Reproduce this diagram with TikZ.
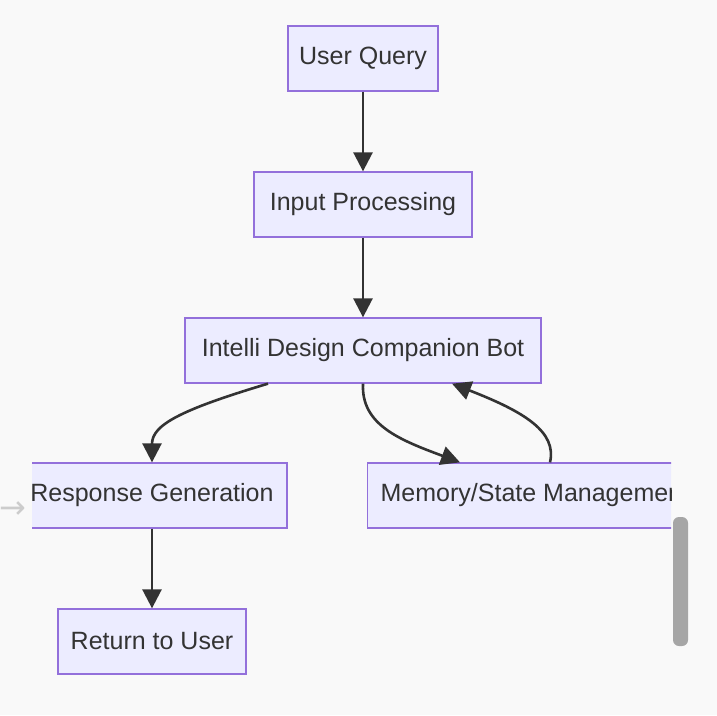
\documentclass[tikz,border=0pt]{standalone}
\usepackage{fontspec}
\setmainfont{Liberation Sans}
\newfontfamily\symfont{DejaVu Sans}
\usetikzlibrary{arrows.meta}
\definecolor{bgcol}{HTML}{F9F9F9}
\definecolor{boxfill}{HTML}{ECECFF}
\definecolor{boxline}{HTML}{9370DB}
\definecolor{inkcol}{HTML}{333333}

\begin{document}
\begin{tikzpicture}[x=1pt,y=-1pt,
    box/.style={draw=boxline, fill=boxfill, line width=1.3pt, minimum height=65pt,
        inner sep=0pt, text=inkcol, font=\fontsize{25}{30}\selectfont},
    link/.style={draw=inkcol, line width=2.6pt, -{Triangle[length=19pt,width=19pt]}}]
        \fill[bgcol] (0,0) rectangle (717,715);
        \useasboundingbox (0,0) rectangle (717,715);

    \begin{scope}
        \clip (32,0) rectangle (671,715);

        \node[box, minimum width=150pt] (query) at (363,58.5) {User Query};
        \node[box, minimum width=218pt] (input) at (363,204.5) {Input Processing};
        \node[box, minimum width=356pt] (bot) at (363,350.5) {Intelli Design Companion Bot};
        \node[box, minimum width=270pt] (resp) at (152,495.5) {Response Generation};
        \node[box, inner xsep=13pt, anchor=west] (mem) at (367,495.5) {Memory/State Management};
        \node[box, minimum width=188pt] (ret) at (152,641.5) {Return to User};

        \draw[link] (query) -- (input);
        \draw[link] (input) -- (bot);
        \draw[link] ([xshift=-95pt]bot.south) .. controls (180,410) and (152,425) .. (resp.north);
        \draw[link] (bot.south) .. controls (361,425) and (400,440) .. ([xshift=93pt]mem.north west);
        \draw[link] ([xshift=183pt]mem.north west) .. controls (557,432) and (525,412) .. ([xshift=89pt]bot.south);
        \draw[link] (resp) -- (ret);
    \end{scope}

        % side arrow and scroll bar
        \node[text=black!20, font=\symfont\fontsize{32}{36}\selectfont, inner sep=0pt] (side) at (13,510) {→};
        \fill[black!35, rounded corners=6pt] (673,517) rectangle (688,646);
\end{tikzpicture}
\end{document}
